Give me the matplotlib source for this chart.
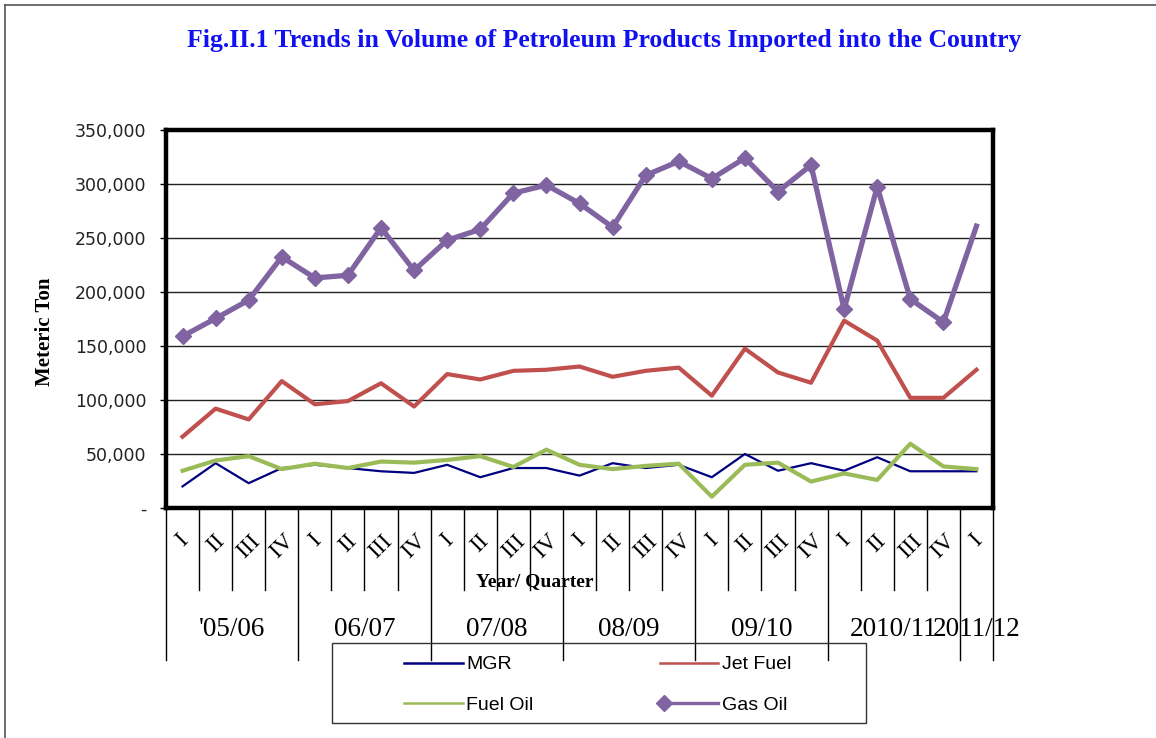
import matplotlib
matplotlib.use('Agg')
import matplotlib.pyplot as plt
import matplotlib.transforms as mtransforms
from matplotlib.lines import Line2D
from matplotlib.patches import Rectangle
from matplotlib.legend_handler import HandlerBase

# ---- data (metric tons per quarter) ----
quarters = ['I', 'II', 'III', 'IV'] * 6 + ['I']
years = ["'05/06", '06/07', '07/08', '08/09', '09/10', '2010/11', '2011/12']
year_len = [4, 4, 4, 4, 4, 4, 1]

mgr = [20000, 41500, 23000, 37000, 40000, 37000, 34000, 32500, 40000, 28500, 37000, 37000,
       30000, 41500, 37000, 40000, 28500, 50000, 34500, 41500, 34500, 47000, 34000, 34000, 34000]
jet_fuel = [66000, 92000, 82000, 117500, 96000, 99000, 115500, 94000, 124000, 119000, 127000, 128000,
            131000, 121500, 127000, 130000, 104000, 147500, 125500, 116000, 173500, 155000, 102000, 102000, 128000]
fuel_oil = [34500, 44000, 48000, 36000, 41000, 37000, 43000, 42000, 44500, 48000, 38000, 54000,
            40000, 36000, 39000, 41000, 10500, 40000, 42000, 24500, 32000, 26000, 59500, 38500, 36000]
gas_oil = [159000, 175500, 192500, 232500, 213000, 215500, 259500, 220000, 248000, 258000, 291500, 299000,
           282000, 260000, 308000, 321000, 305000, 324000, 293000, 317500, 184000, 297500, 193500, 172000, 261000]

colors = {'MGR': '#000080', 'Jet Fuel': '#C0504D', 'Fuel Oil': '#9BBB59', 'Gas Oil': '#8064A2'}


class LeftMarker(HandlerBase):
    # excel draws the legend marker at the left end of the line
    def create_artists(self, legend, orig_handle, xdescent, ydescent, width, height,
                       fontsize, trans):
        y = height / 2 - ydescent
        line = Line2D([-xdescent, -xdescent + width], [y, y],
                      color=orig_handle.get_color(), lw=orig_handle.get_linewidth())
        mark = Line2D([-xdescent + 3], [y], marker='D', markersize=8, linestyle='none',
                      color=orig_handle.get_color())
        line.set_transform(trans)
        mark.set_transform(trans)
        return [line, mark]


W, H = 1156, 738
fig = plt.figure(figsize=(W / 100, H / 100), dpi=100)

# outer border of the embedded picture
fig.add_artist(Line2D([5 / W, 5 / W], [0, 1 - 5 / H], color='#555555', lw=1.2))
fig.add_artist(Line2D([5 / W, 1], [1 - 5 / H, 1 - 5 / H], color='#555555', lw=1.2))

ax = fig.add_axes([166 / W, 1 - 508 / H, 827 / W, 378 / H])
x = list(range(len(gas_oil)))

ax.plot(x, mgr, color=colors['MGR'], lw=1.6, zorder=3)
ax.plot(x, jet_fuel, color=colors['Jet Fuel'], lw=3.0, zorder=3)
ax.plot(x, fuel_oil, color=colors['Fuel Oil'], lw=3.0, zorder=4)
ax.plot(x, gas_oil, color=colors['Gas Oil'], lw=3.8, marker='D', markersize=8.5,
        markevery=list(range(len(gas_oil) - 1)), zorder=5)

ax.set_xlim(-0.5, len(x) - 0.5)
ax.set_ylim(0, 350000)
ax.set_yticks(range(0, 350001, 50000))
ax.yaxis.set_major_formatter(plt.FuncFormatter(lambda v, p: '-' if v == 0 else f'{v:,.0f}'))
ax.grid(axis='y', color='#222222', lw=1.0)
ax.set_axisbelow(True)
for s in ax.spines.values():
    s.set_linewidth(3.2)
    s.set_color('black')
ax.tick_params(axis='y', direction='out', length=4, width=1, labelsize=12.5,
               labelcolor='#222222', pad=10)
for t in ax.get_yticklabels():
    t.set_family('DejaVu Sans')

# quarter labels
ax.set_xticks(x)
ax.set_xticklabels(quarters, rotation=45, ha='center', va='top',
                   family='Liberation Serif', fontsize=17)
ax.tick_params(axis='x', length=0, pad=16)

# multi-level category separators
tr = mtransforms.blended_transform_factory(ax.transData, ax.transAxes)
short_end = (508 - 590) / 378
long_end = (508 - 660) / 378
bounds = [0]
for n in year_len:
    bounds.append(bounds[-1] + n)
for k in range(len(x) + 1):
    yend = long_end if k in bounds else short_end
    ax.add_artist(Line2D([k - 0.5, k - 0.5], [0, yend], transform=tr, color='black',
                         lw=1.0, clip_on=False))
for i, lab in enumerate(years):
    cx = (bounds[i] + bounds[i + 1]) / 2 - 0.5
    ax.text(cx, (508 - 630) / 378, lab, transform=tr, ha='center', va='center',
            family='Liberation Serif', fontsize=19.5)

ax.text(0.446, (508 - 582) / 378, 'Year/ Quarter', transform=ax.transAxes, ha='center',
        va='center', family='Liberation Serif', fontweight='bold', fontsize=14)

fig.text(45 / W, 1 - 332 / H, 'Meteric Ton', rotation=90, ha='center', va='center',
         family='Liberation Serif', fontweight='bold', fontsize=15)

fig.text(604 / W, 1 - 40 / H,
         'Fig.II.1 Trends in Volume of Petroleum Products Imported into the Country',
         ha='center', va='center', family='Liberation Serif', fontweight='bold',
         fontsize=18.5, color='#1010F0')

# legend
fig.add_artist(Rectangle((332 / W, 1 - 723 / H), 534 / W, 80 / H, transform=fig.transFigure,
                         fill=False, edgecolor='#333333', lw=1.0))
names = ['MGR', 'Fuel Oil', 'Jet Fuel', 'Gas Oil']
handles = []
for n in names:
    if n == 'Gas Oil':
        handles.append(Line2D([], [], color=colors[n], lw=2.4, marker='D', markersize=8))
    else:
        handles.append(Line2D([], [], color=colors[n], lw=1.8))
fig.legend(handles, names, ncol=2, frameon=False,
           loc='center', bbox_to_anchor=(598 / W, 1 - 685 / H),
           prop={'family': 'Liberation Sans', 'size': 14}, handlelength=3.0,
           handletextpad=0.2, columnspacing=6.5, labelspacing=1.2,
           handler_map={handles[3]: LeftMarker()})

fig.savefig('out.png', dpi=100)
